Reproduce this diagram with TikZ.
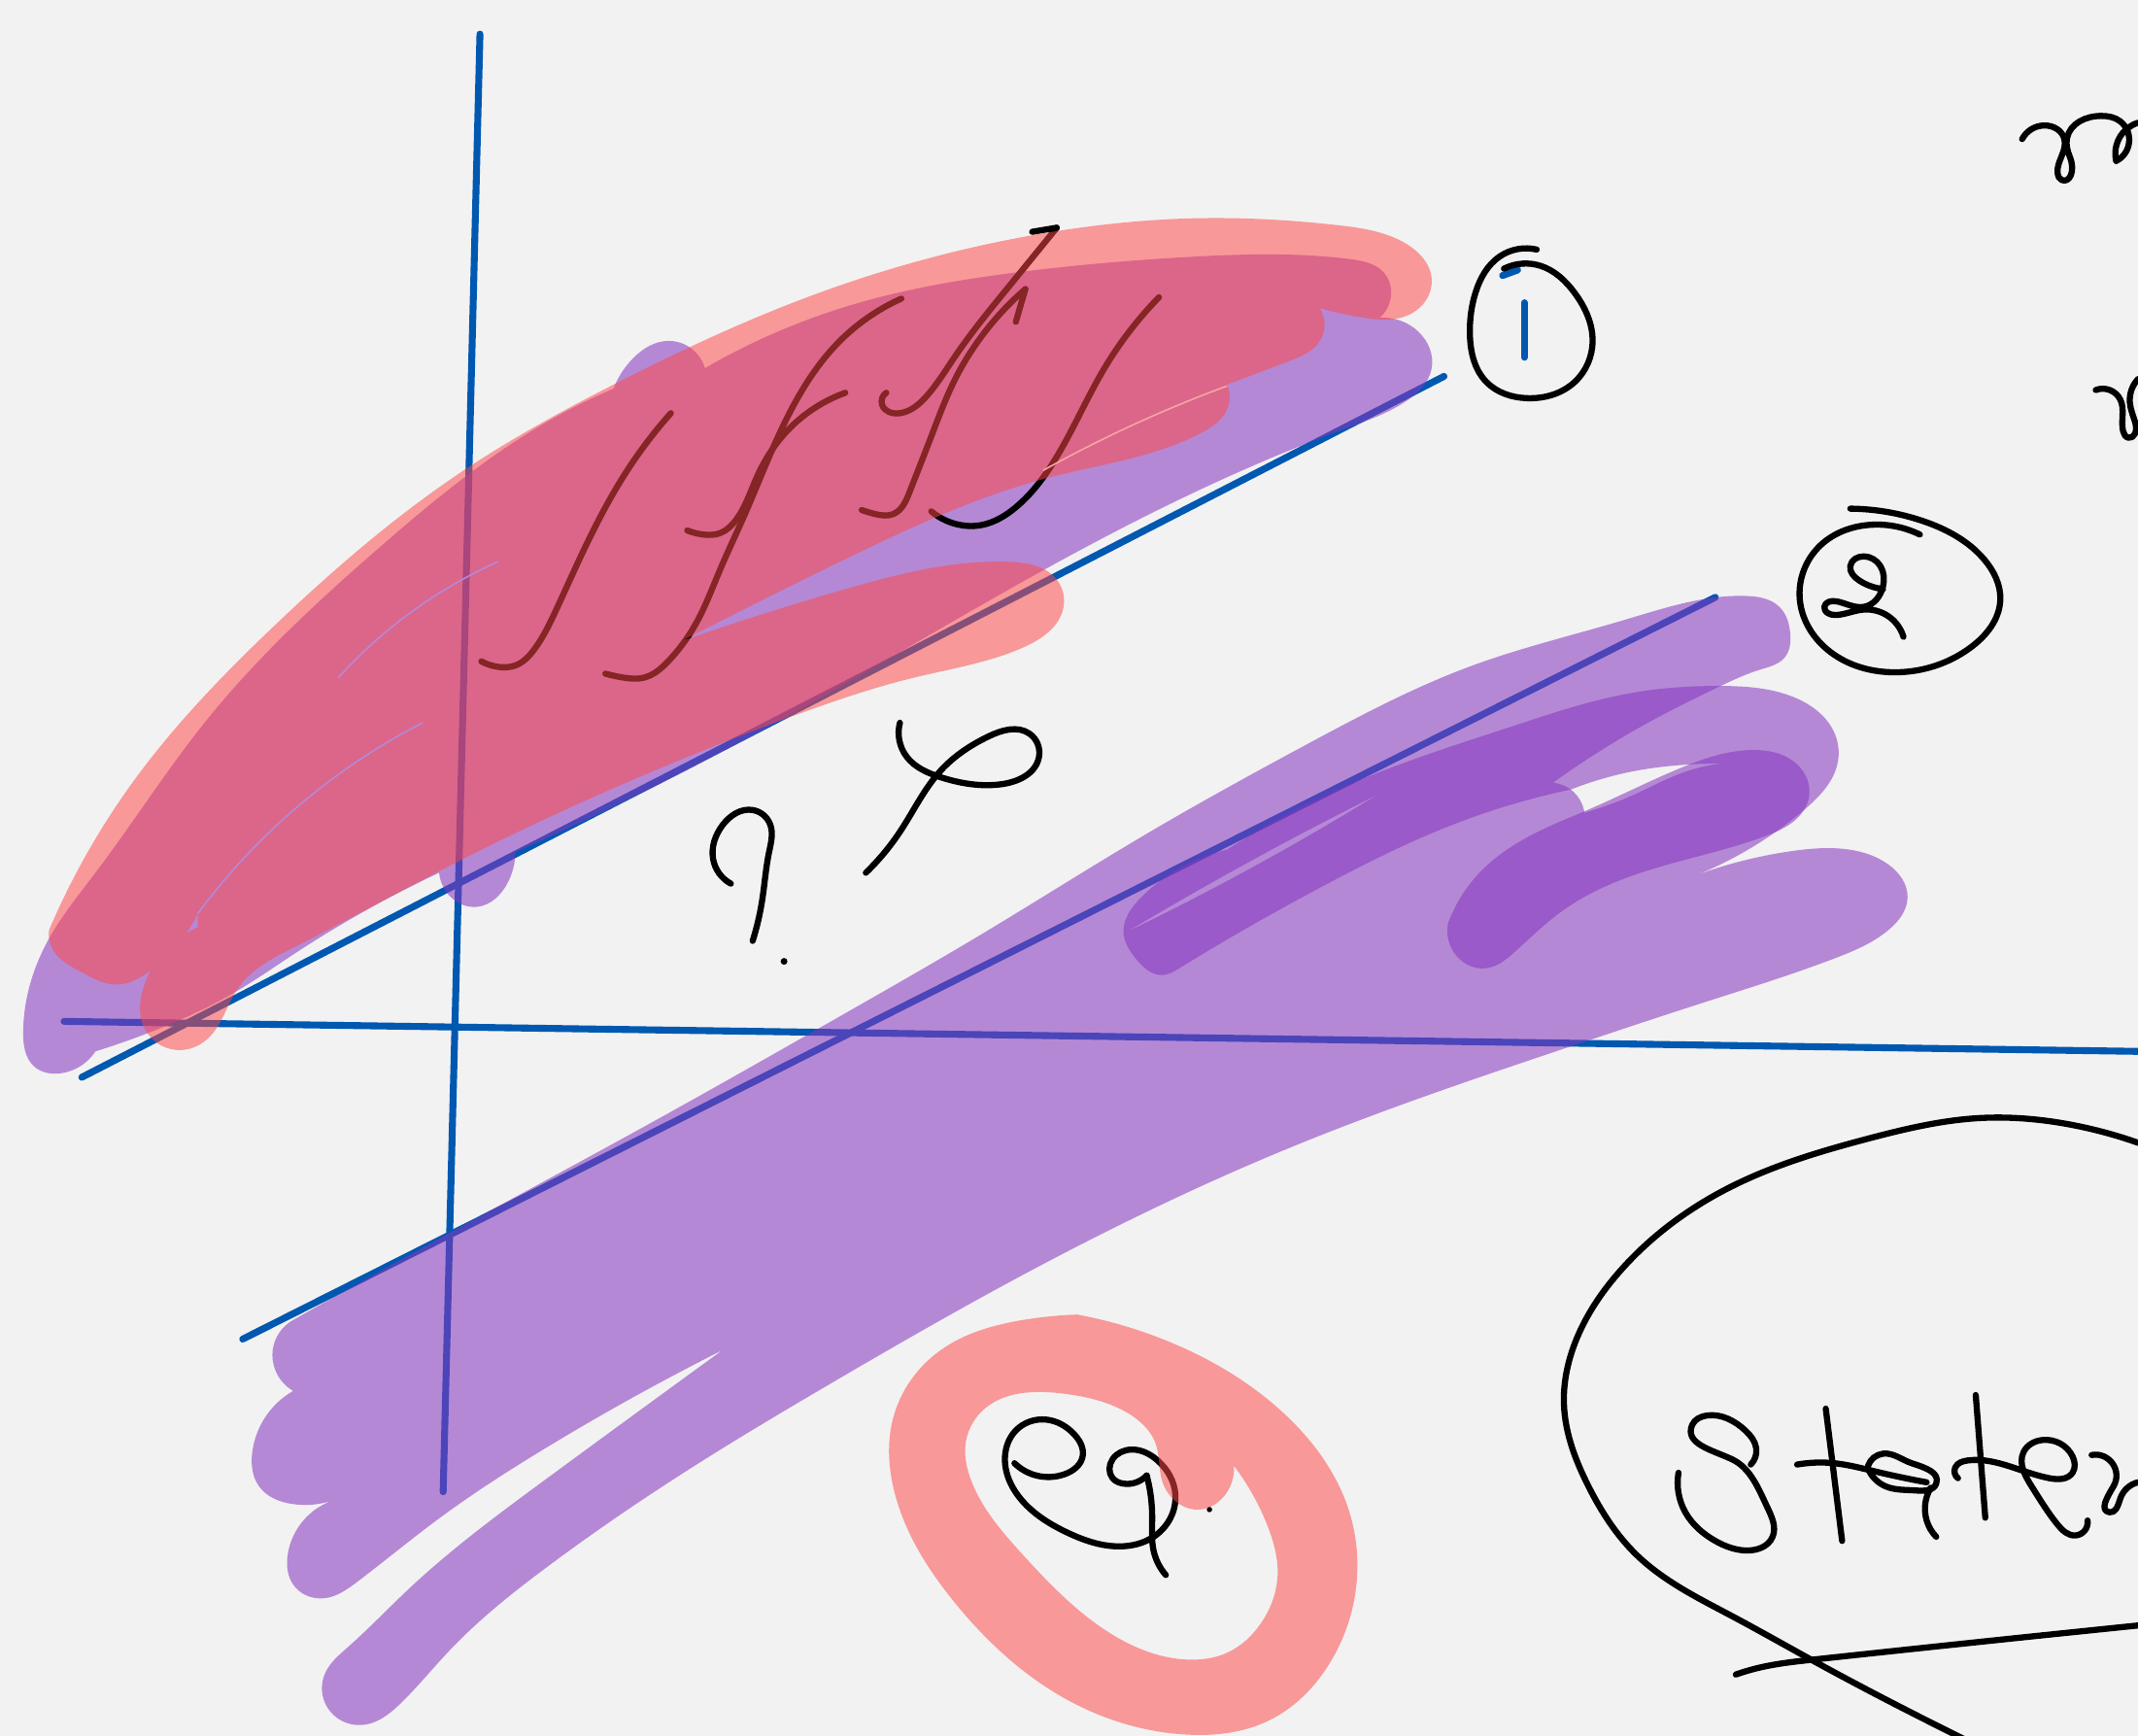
\documentclass[tikz,border=0pt]{standalone}
\usetikzlibrary{hobby}
\definecolor{bgc}{HTML}{F2F2F2}
\definecolor{bluec}{HTML}{0058B0}
\definecolor{purplec}{HTML}{8638C0}
\definecolor{salmonc}{HTML}{FF4747}
\definecolor{lightp}{HTML}{B589D6}
\tikzset{
  ink/.style={draw=black,line width=1.6pt,line cap=round,line join=round},
  blueline/.style={draw=bluec,line width=1.8pt,line cap=round},
  purplehl/.style={fill=purplec,fill opacity=.566,draw=none},
  salmonhl/.style={fill=salmonc,fill opacity=.52,draw=none}
}
\begin{document}
\begin{tikzpicture}[x=0.0125cm,y=-0.0125cm,use Hobby shortcut]
\useasboundingbox (0,0) rectangle (1568,1273);
\fill[bgc] (0,0) rectangle (1568,1273);
% blue axes and lines
\draw[blueline] (352,25) -- (325,1094);
\draw[blueline] (47,749) -- (1568,771);
\draw[blueline] (60,790) -- (1059,276);
\draw[blueline] (178,982) -- (1258,438);
\draw[blueline] (1102,202) -- (1113,198);
\draw[blueline] (1118,222) -- (1118,262);
% purple: big lower region
\fill[purplehl] (215,968)..(350,893)..(480,822)..(620,743)..(720,685)..(840,612)..(960,545)..(1080,488)..(1190,455)..(1280,437)..(1305,445)..(1313,465)..(1309,482)..(1291,491)..(1262,503)..(1205,532)..(1139,574)
 -- (1139,574)..(1152,579)..(1162,596)
 -- (1162,596)..(1200,582)..(1233,567)..(1262,560)
 -- (1246,641)
 -- (1246,641)..(1315,624)..(1356,623)..(1385,634)..(1399,658)..(1385,682)..(1345,703)..(1250,735)..(1150,768)..(950,840)..(750,935)..(600,1020)..(530,1062)..(400,1150)..(330,1210)..(295,1248)..(265,1265)..(240,1252)..(238,1228)..(255,1208)..(300,1165)..(400,1085)..(530,990)
 -- (530,990)..(400,1062)..(320,1115)..(262,1160)..(238,1172)..(215,1162)..(211,1140)..(245,1100)
 -- (245,1100)..(215,1103)..(190,1090)..(185,1065)..(215,1020)
 -- (215,1020)..(202,1005)..(200,990)..(215,968) -- cycle;
% purple: band over it
\fill[purplehl] (900,623)..(988,576)..(1111,532)..(1192,509)..(1262,503)..(1315,511)..(1346,539)..(1348,558)..(1323,594)..(1295,615)..(1246,641)
 -- (1262,560)
 -- (1262,560)..(1233,561)..(1201,565)..(1152,579)
 -- (1152,579)..(1070,603)..(968,651)..(865,710)..(853,715)..(833,703)..(824,684)..(837,658)..(900,623) -- cycle;
% purple: dark stroke
\fill[purplehl] (1062,677)..(1086,639)..(1143,603)..(1162,595)..(1233,563)..(1287,550)..(1315,558)..(1327,582)..(1320,598)..(1295,613)..(1192,644)..(1143,670)..(1111,698)..(1090,710)..(1066,698)..(1062,677) -- cycle;
% purple: upper region
\fill[purplehl] (70,771)..(45,787)..(25,782)..(17,757)..(35,690)..(70,640)..(150,530)..(280,400)..(400,310)..(450,285)
 -- (450,285)..(465,262)..(490,250)..(517,270)
 -- (517,270)..(620,225)..(760,198)..(880,188)..(990,190)..(1015,200)..(1020,218)..(1012,233)
 -- (1012,233)..(1040,243)..(1050,270)..(1030,295)..(985,315)..(780,410)..(560,535)..(378,625)
 -- (378,625)..(372,648)..(350,665)..(328,655)..(322,640)
 -- (322,640)..(215,700)..(175,726)..(110,757)..(70,771) -- cycle;
% handwriting: integrals
\draw[ink] (353,485)..(365,489)..(378,488)..(392,476)..(408,447)..(425,410)..(460,345)..(492,303);
\draw[ink] (444,494)..(458,497)..(472,497)..(490,485)..(510,458)..(528,418)..(545,380)..(580,301)..(615,251)..(661,219);
\draw[ink] (504,389)..(516,392)..(528,391)..(540,381)..(555,350)..(572,322)..(620,288);
\draw[ink] (632,374)..(642,377)..(655,377)..(667,361)..(683,320)..(700,279)..(725,240)..(752,212);
\draw[ink] (752,212) -- (745,236);
\draw[ink] (650,288)..(647,297)..(660,303)..(680,290)..(700,262)..(740,210)..(775,167);
\draw[ink] (775,167) -- (757,170);
\draw[ink] (683,375)..(700,384)..(720,385)..(745,372)..(775,335)..(810,270)..(850,218);
% circled 1
\draw[ink] (1127,183)..(1100,188)..(1082,215)..(1078,245)..(1090,280)..(1120,292)..(1155,280)..(1168,250)..(1155,215)..(1130,195)..(1103,197);
% circled 2
\draw[ink] (1357,373)..(1410,382)..(1455,410)..(1467,440)..(1445,475)..(1390,493)..(1345,480)..(1320,440)..(1335,400)..(1370,385)..(1408,392);
\draw[ink] (1396,467)..(1367,447)..(1347,451)..(1338,445)..(1347,441)..(1367,445)..(1381,430)..(1379,415)..(1367,408)..(1357,415)..(1364,426)..(1381,432);
% top right writing
\draw[ink] (1483,102)..(1499,92)..(1514,102)..(1509,127)..(1512,132)..(1518,115)..(1516,101)..(1541,85)..(1555,89)..(1552,118);
\draw[ink] (1552,118)..(1555,100)..(1568,90);
\draw[ink] (1537,286)..(1555,293)..(1557,316)..(1561,321)..(1566,310)..(1562,295)..(1568,278);
% phi and question mark
\draw[ink] (660,530)..(665,555)..(690,570)..(735,575)..(762,555)..(755,538)..(725,540)..(690,565)..(660,610)..(635,640);
\draw[ink] (536,648)..(523,630)..(530,605)..(552,594)..(565,605)..(564,625)..(559,660)..(552,690);
\fill[black] (575,705) circle (2.5);
% eq.
\draw[ink] (744,1073)..(781,1081)..(794,1068)..(788,1052)..(767,1041)..(745,1049)..(737,1071)..(751,1102)..(783,1124)..(821,1134)..(846,1127)..(862,1096)..(849,1071)..(830,1063)..(816,1070)..(816,1084)..(824,1088)..(841,1082);
\draw[ink] (841,1082)..(845,1112)..(846,1137)..(855,1155);
\fill[black] (887,1107) circle (2);
% State
\draw[ink] (1231,1080)..(1236,1109)..(1258,1130)..(1280,1137)..(1300,1127)..(1296,1105)..(1270,1070)..(1241,1045)..(1252,1038)..(1280,1049)..(1288,1062)..(1284,1074);
\draw[ink] (1339,1033) -- (1351,1130);
\draw[ink] (1318,1074)..(1345,1073)..(1375,1079)..(1413,1087);
\draw[ink] (1370,1075)..(1381,1066)..(1402,1073)..(1420,1088)..(1405,1093)..(1383,1090)..(1370,1077);
\draw[ink] (1416,1091)..(1413,1115)..(1420,1127);
\draw[ink] (1449,1023) -- (1456,1113);
\draw[ink] (1436,1084)..(1434,1076)..(1443,1071)..(1476,1076)..(1503,1084)..(1520,1080)..(1520,1068)..(1498,1056)..(1484,1065)..(1490,1090)..(1509,1118)..(1522,1126)..(1531,1115);
\draw[ink] (1534,1067)..(1550,1090)..(1547,1109)..(1555,1099)..(1568,1087);
% big loop and crossing line
\draw[ink] (1568,838)..(1520,825)..(1450,820)..(1370,835)..(1270,870)..(1190,930)..(1155,985)..(1147,1030)..(1165,1090)..(1200,1140)..(1270,1185)..(1330,1218)..(1400,1255)..(1450,1280);
\draw[ink] (1273,1228)..(1290,1223)..(1330,1217)..(1568,1192);
% salmon over the upper region
\fill[salmonhl] (36,682)..(100,570)..(200,460)..(340,345)..(450,282)..(600,215)..(760,172)..(880,160)..(980,165)..(1030,178)..(1050,205)..(1035,230)..(1000,233)..(968,226)
 -- (968,226)..(968,250)..(945,265)..(900,282)
 -- (900,282)..(900,300)..(880,318)..(770,350)..(620,410)..(500,470)
 -- (500,470)..(620,432)..(740,412)..(775,425)..(780,445)..(750,475)..(670,497)..(590,522)..(450,578)..(380,610)..(320,640)..(215,695)..(175,724)..(152,762)..(130,770)..(105,752)..(105,725)..(145,680)
 -- (145,670)..(110,712)..(85,722)..(60,713)..(38,695)..(36,682) -- cycle;
% salmon ring around eq.
\fill[salmonhl,even odd rule] (790,964)..(860,985)..(940,1035)..(990,1110)..(995,1160)..(975,1220)..(930,1262)..(870,1272)..(780,1245)..(700,1175)..(655,1090)..(655,1040)..(690,990)..(750,968)..(790,964) -- cycle
 (905,1075)..(930,1120)..(937,1155)..(925,1190)..(900,1212)..(870,1217)..(810,1195)..(750,1140)..(712,1085)..(708,1060)..(720,1035)..(780,1022)..(825,1035)..(848,1060)..(852,1085)..(865,1103)..(880,1107)..(897,1098)..(905,1075) -- cycle;
% hairline streaks
\draw[lightp,line width=.4pt] (248,497)..(300,450)..(365,412);
\draw[lightp,line width=.4pt] (145,670)..(220,590)..(310,530);
\fill[lightp] (829,682)..(920,630)..(1008,584) -- (1008,584)..(922,634)..(829,682) -- cycle;
\draw[salmonc!45!bgc,line width=.4pt] (765,345)..(830,312)..(900,283);
\end{tikzpicture}
\end{document}
